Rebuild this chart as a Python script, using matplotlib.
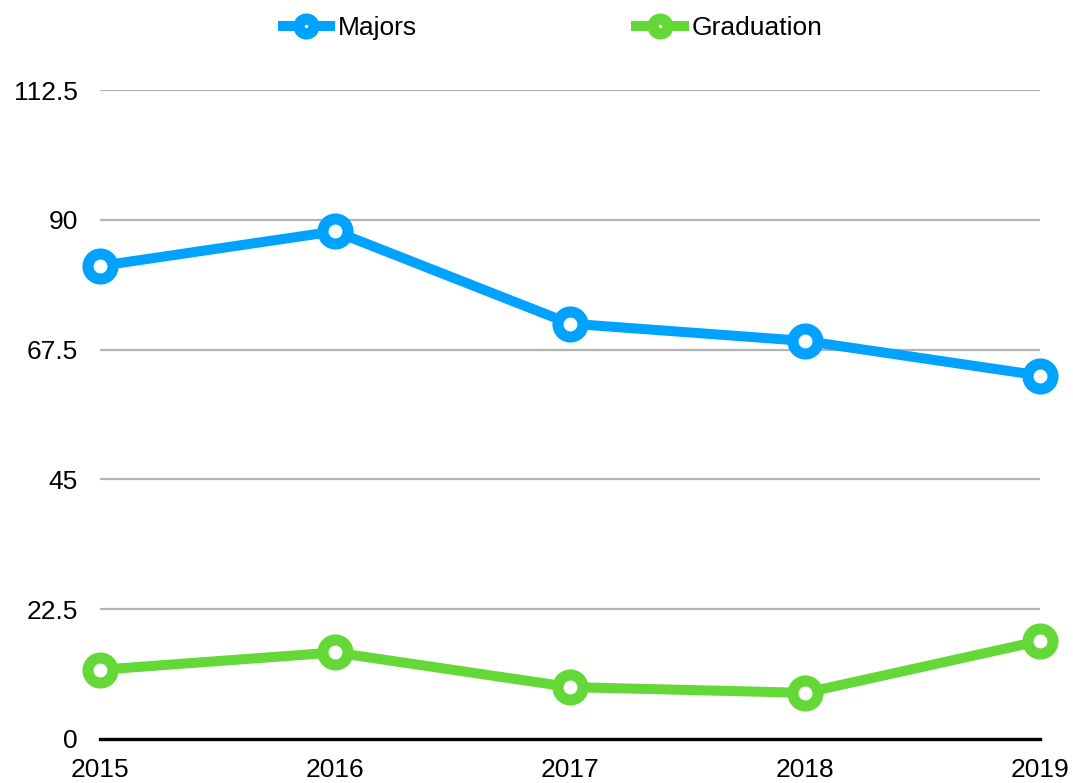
import matplotlib.pyplot as plt

plt.rcParams['font.family'] = ['Liberation Sans', 'DejaVu Sans']

years = ['2015', '2016', '2017', '2018', '2019']
majors = [82, 88, 72, 69, 63]
graduation = [12, 15, 9, 8, 17]

blue = '#00A2FF'
green = '#63D836'

fig = plt.figure(figsize=(10.73, 7.83), dpi=100)
ax = fig.add_axes([100 / 1073, 1 - 739 / 783, 940 / 1073, 649 / 783])

x = range(len(years))
ax.plot(x, majors, color=blue, lw=7.2, marker='o', ms=18, mew=8,
        mfc='white', mec=blue, label='Majors', clip_on=False, zorder=3)
ax.plot(x, graduation, color=green, lw=7.2, marker='o', ms=18, mew=8,
        mfc='white', mec=green, label='Graduation', clip_on=False, zorder=3)

ax.set_xlim(0, len(years) - 1)
ax.set_ylim(0, 112.5)
ax.set_yticks([0, 22.5, 45, 67.5, 90, 112.5])
ax.set_yticklabels(['0', '22.5', '45', '67.5', '90', '112.5'])
ax.set_xticks(list(x))
ax.set_xticklabels(years)
ax.tick_params(length=0, labelsize=19)
ax.tick_params(axis='y', pad=16)
ax.tick_params(axis='x', pad=14)
ax.grid(axis='y', color='#b3b3b3', lw=1.6)
ax.set_axisbelow(True)
for s in ['top', 'right', 'left']:
    ax.spines[s].set_visible(False)
ax.spines['bottom'].set_linewidth(2.4)
ax.spines['bottom'].set_zorder(2)

leg = fig.legend(loc='upper center', bbox_to_anchor=(0.515, 1.01), ncol=2,
                 frameon=False, fontsize=19, handlelength=1.8,
                 columnspacing=8.3, handletextpad=0.3, markerscale=0.6)
plt.savefig('out.png', dpi=100)
